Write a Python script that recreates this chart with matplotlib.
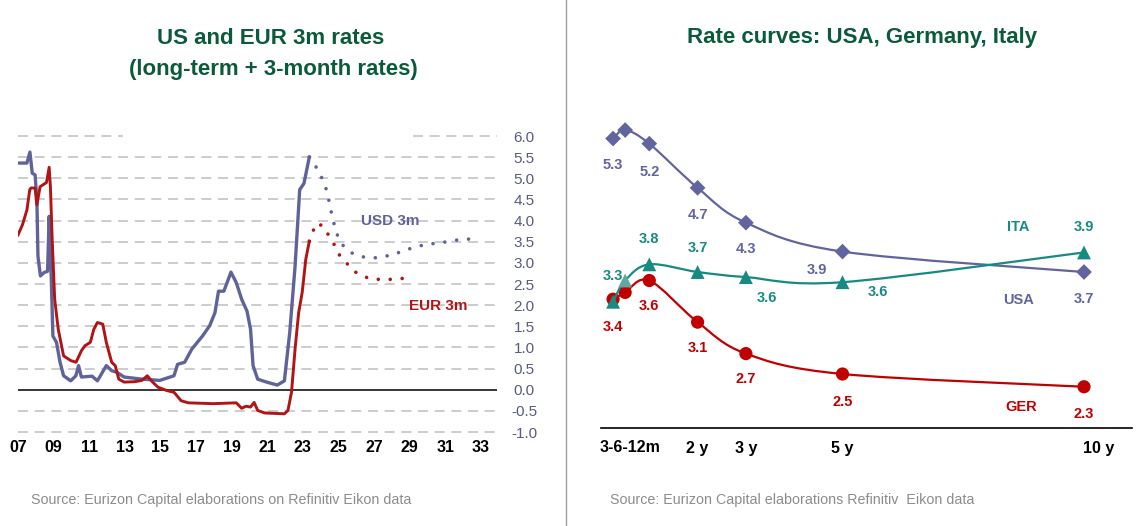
import matplotlib
matplotlib.use("Agg")
import matplotlib.pyplot as plt
import numpy as np
from matplotlib.path import Path
from matplotlib.patches import PathPatch

# ---- left chart: 3m rates (years as decimals) ----
usd_years = [2007.0, 2007.5, 2007.67, 2007.8, 2007.96, 2008.06, 2008.12, 2008.26, 2008.46,
             2008.66, 2008.75, 2008.85, 2008.96, 2009.16, 2009.36, 2009.56, 2009.96, 2010.25,
             2010.4, 2010.56, 2011.16, 2011.46, 2011.96, 2012.26, 2012.56, 2012.96, 2013.96,
             2014.96, 2015.76, 2015.96, 2016.36, 2016.76, 2017.36, 2017.76, 2018.06, 2018.26,
             2018.56, 2018.96, 2019.26, 2019.56, 2019.86, 2020.06, 2020.2, 2020.46, 2020.96,
             2021.56, 2021.96, 2022.26, 2022.56, 2022.82, 2023.06, 2023.36]
usd_vals = [5.36, 5.36, 5.62, 5.12, 5.08, 4.5, 3.16, 2.69, 2.77,
            2.8, 4.1, 2.9, 1.27, 1.12, 0.65, 0.33, 0.21, 0.33,
            0.57, 0.3, 0.32, 0.21, 0.57, 0.45, 0.41, 0.3, 0.25,
            0.22, 0.33, 0.6, 0.65, 0.96, 1.27, 1.51, 1.82, 2.33,
            2.33, 2.78, 2.53, 2.14, 1.86, 1.43, 0.57, 0.25, 0.18,
            0.11, 0.21, 1.35, 2.92, 4.73, 4.88, 5.5]
usd_fc_years = [2023.36, 2023.66, 2023.96, 2024.16, 2024.36, 2024.56, 2024.8, 2024.96, 2025.26,
                2025.66, 2026.16, 2026.66, 2027.16, 2027.66, 2028.16, 2028.66, 2029.16,
                2029.66, 2030.16, 2030.76, 2031.16, 2031.66, 2032.16, 2032.66]
usd_fc_vals = [5.5, 5.32, 5.12, 4.9, 4.69, 4.26, 3.83, 3.63, 3.41,
               3.25, 3.16, 3.12, 3.12, 3.16, 3.2, 3.3, 3.35,
               3.41, 3.45, 3.47, 3.51, 3.54, 3.55, 3.59]

eur_years = [2007.0, 2007.25, 2007.5, 2007.66, 2007.73, 2007.96, 2008.06, 2008.24, 2008.6,
             2008.75, 2008.82, 2008.92, 2009.06, 2009.26, 2009.56, 2009.96, 2010.26, 2010.56,
             2010.76, 2011.06, 2011.26, 2011.46, 2011.76, 2011.96, 2012.26, 2012.46, 2012.66,
             2012.96, 2013.56, 2013.96, 2014.26, 2014.56, 2014.86, 2015.36, 2015.76, 2016.16,
             2016.56, 2017.96, 2019.26, 2019.56, 2019.8, 2020.06, 2020.26, 2020.46, 2020.86,
             2021.96, 2022.16, 2022.36, 2022.56, 2022.76, 2022.96, 2023.16, 2023.36]
eur_vals = [3.66, 3.9, 4.25, 4.73, 4.77, 4.77, 4.37, 4.8, 4.9,
            5.26, 4.8, 3.55, 2.14, 1.43, 0.8, 0.69, 0.65, 0.92,
            1.04, 1.12, 1.43, 1.59, 1.55, 1.12, 0.65, 0.57, 0.25,
            0.18, 0.19, 0.22, 0.33, 0.18, 0.06, -0.02, -0.06, -0.26,
            -0.31, -0.33, -0.31, -0.44, -0.39, -0.41, -0.3, -0.49, -0.55,
            -0.57, -0.49, -0.06, 0.96, 1.82, 2.3, 3.08, 3.51]
eur_fc_years = [2023.36, 2023.56, 2023.8, 2024.16, 2024.46, 2024.76, 2024.95, 2025.26, 2025.62,
                2025.96, 2026.46, 2026.96, 2027.52, 2028.06, 2028.56, 2029.12]
eur_fc_vals = [3.51, 3.75, 3.94, 3.86, 3.64, 3.43, 3.24, 3.08, 2.92,
               2.78, 2.67, 2.61, 2.61, 2.61, 2.63, 2.66]

left_yticks = [-1.0, -0.5, 0.0, 0.5, 1.0, 1.5, 2.0, 2.5, 3.0, 3.5, 4.0, 4.5, 5.0, 5.5, 6.0]
left_xticks = list(range(2007, 2034, 2))
left_xlabels = [f"{y % 100:02d}" for y in left_xticks]

# ---- right chart: rate curves ----
maturities = [0.25, 0.5, 1, 2, 3, 5, 10]
usa = [5.27, 5.37, 5.21, 4.69, 4.28, 3.94, 3.70]
ita = [3.35, 3.60, 3.79, 3.70, 3.64, 3.58, 3.93]
ger = [3.38, 3.46, 3.60, 3.11, 2.74, 2.50, 2.35]
usa_labels = ["5.3", None, "5.2", "4.7", "4.3", "3.9", "3.7"]
ita_labels = ["3.3", None, "3.8", "3.7", "3.6", "3.6", "3.9"]
ger_labels = ["3.4", None, "3.6", "3.1", "2.7", "2.5", "2.3"]
right_xticks = [0.6, 2, 3, 5, 10.3]
right_xlabels = ["3-6-12m", "2 y", "3 y", "5 y", "10 y"]

C_USD = "#5f6399"
C_EUR = "#b01515"
C_USA = "#62649f"
C_ITA = "#178a82"
C_ITA_LIGHT = "#5ea9a3"
C_GER = "#c00000"
C_TITLE = "#0c5a3c"
NARROW = ["Liberation Sans Narrow", "Liberation Sans", "DejaVu Sans"]
SANS = ["Liberation Sans", "DejaVu Sans"]

W, H = 1143, 526
fig = plt.figure(figsize=(W / 100, H / 100), dpi=100)


def px_axes(left, top, right, bottom):
    return fig.add_axes([left / W, 1 - bottom / H, (right - left) / W, (bottom - top) / H])


def smooth_path(x, y):
    """Excel-like smoothed line as cubic bezier segments through the points."""
    pts = np.column_stack([x, y]).astype(float)
    n = len(pts)
    verts, codes = [pts[0]], [Path.MOVETO]
    for i in range(n - 1):
        p0, p1 = pts[max(i - 1, 0)], pts[i]
        p2, p3 = pts[i + 1], pts[min(i + 2, n - 1)]
        verts += [p1 + (p2 - p0) / 6, p2 - (p3 - p1) / 6, p2]
        codes += [Path.CURVE4] * 3
    return Path(verts, codes)


# ---------------- left panel ----------------
ax = px_axes(18, 136, 497, 432)
ax.set_xlim(2007, 2033.9)
ax.set_ylim(-1.0, 6.0)
grid_kw = dict(color="#c4c4c4", lw=1.2, ls=(0, (6, 4)), zorder=1, clip_on=False)
for v in left_yticks:
    if v == 0:
        continue
    if v == 6.0:
        # top line is partly hidden in the original
        ax.axhline(v, xmax=0.22, **grid_kw)
        ax.axhline(v, xmin=0.825, **grid_kw)
        continue
    ax.axhline(v, **grid_kw)
ax.axhline(0, color="black", lw=1.1, zorder=2)

ax.plot(usd_years, usd_vals, color=C_USD, lw=2.4, zorder=3, solid_joinstyle="round")
ax.plot(eur_years, eur_vals, color=C_EUR, lw=2.1, zorder=4, solid_joinstyle="round")
ax.plot(usd_fc_years, usd_fc_vals, color=C_USD, lw=2.6, ls=(0, (0.01, 3.3)),
        dash_capstyle="round", zorder=3)
ax.plot(eur_fc_years, eur_fc_vals, color=C_EUR, lw=2.6, ls=(0, (0.01, 3.3)),
        dash_capstyle="round", zorder=4)

ax.text(2027.9, 4.0, "USD 3m", color=C_USD, fontsize=11, fontweight="bold",
        family=SANS, ha="center", va="center", zorder=5)
ax.text(2030.6, 1.97, "EUR 3m", color=C_EUR, fontsize=11, fontweight="bold",
        family=SANS, ha="center", va="center", zorder=5)

for s in ax.spines.values():
    s.set_visible(False)
ax.set_xticks(left_xticks)
ax.set_xticklabels(left_xlabels, family=NARROW, fontsize=11.5, fontweight="bold")
ax.tick_params(axis="x", length=0, pad=6)
ax.yaxis.tick_right()
ax.set_yticks(left_yticks)
ax.set_yticklabels([f"{v:.1f}" for v in left_yticks], family=SANS, fontsize=11,
                   color="#575b80", ha="center")
ax.tick_params(axis="y", length=0, pad=19.5)

fig.text(271 / W, 1 - 38 / H, "US and EUR 3m rates", color=C_TITLE, fontsize=16,
         fontweight="bold", family=NARROW, ha="center", va="center")
fig.text(273 / W, 1 - 69 / H, "(long-term + 3-month rates)", color=C_TITLE, fontsize=16,
         fontweight="bold", family=NARROW, ha="center", va="center")
fig.text(31 / W, 1 - 500 / H, "Source: Eurizon Capital elaborations on Refinitiv Eikon data",
         color="#8c8c8c", fontsize=10.3, family=NARROW, ha="left", va="center")

# separator
fig.add_artist(plt.Line2D([566 / W, 566 / W], [0, 1], color="#a0a0a0", lw=1))

# ---------------- right panel ----------------
ax2 = px_axes(601, 110, 1132, 428)
ax2.set_xlim(0, (1132 - 601) / 48.3)
ax2.set_ylim(3.7 - 156 / 85, 3.7 + 162 / 85)

ita_marker_colors = [C_ITA, C_ITA_LIGHT, C_ITA, C_ITA, C_ITA, C_ITA, C_ITA]
series = [
    (usa, usa_labels, C_USA, [C_USA] * 7, "D", 8,
     [(0, -26), None, (0, -28), (0, -27), (0, -26), (-26, -18), (0, -27)]),
    (ger, ger_labels, C_GER, [C_GER] * 7, "o", 9.5,
     [(0, -28), None, (0, -26), (0, -26), (0, -25), (0, -28), (0, -27)]),
    (ita, ita_labels, C_ITA, ita_marker_colors, "^", 10,
     [(0, 26), None, (0, 25), (0, 24), (21, -21), (35, -10), (0, 25)]),
]
for z, (vals, labels, col, mcols, mk, ms, offs) in enumerate(series):
    ax2.add_patch(PathPatch(smooth_path(maturities, vals), fill=False, edgecolor=col,
                            lw=1.6, zorder=2 + z * 2))
    ax2.scatter(maturities, vals, marker=mk, s=ms ** 2, c=mcols, linewidths=0,
                zorder=3 + z * 2, clip_on=False)
    for m, v, lab, off in zip(maturities, vals, labels, offs):
        if lab is None:
            continue
        ax2.annotate(lab, (m, v), xytext=off, textcoords="offset pixels", ha="center",
                     va="center", color=col, fontsize=10.5, fontweight="bold", family=SANS)

ax2.text(8.63, 4.23, "ITA", color=C_ITA, fontsize=10.5, fontweight="bold", family=SANS,
         ha="center", va="center")
ax2.text(8.65, 3.37, "USA", color=C_USA, fontsize=10.5, fontweight="bold", family=SANS,
         ha="center", va="center")
ax2.text(8.7, 2.11, "GER", color=C_GER, fontsize=10.5, fontweight="bold",
         family=SANS, ha="center", va="center")

for k in ["top", "right", "left"]:
    ax2.spines[k].set_visible(False)
ax2.spines["bottom"].set_color("black")
ax2.spines["bottom"].set_linewidth(1.2)
ax2.set_yticks([])
ax2.set_xticks(right_xticks)
ax2.set_xticklabels(right_xlabels, family=NARROW, fontsize=11.5, fontweight="bold")
ax2.tick_params(axis="x", length=0, pad=9)

fig.text(862 / W, 1 - 38 / H, "Rate curves: USA, Germany, Italy", color=C_TITLE,
         fontsize=16, fontweight="bold", family=NARROW, ha="center", va="center")
fig.text(610 / W, 1 - 500 / H, "Source: Eurizon Capital elaborations Refinitiv  Eikon data",
         color="#8c8c8c", fontsize=10.3, family=NARROW, ha="left", va="center")

fig.savefig("out.png", dpi=100, facecolor="white")
